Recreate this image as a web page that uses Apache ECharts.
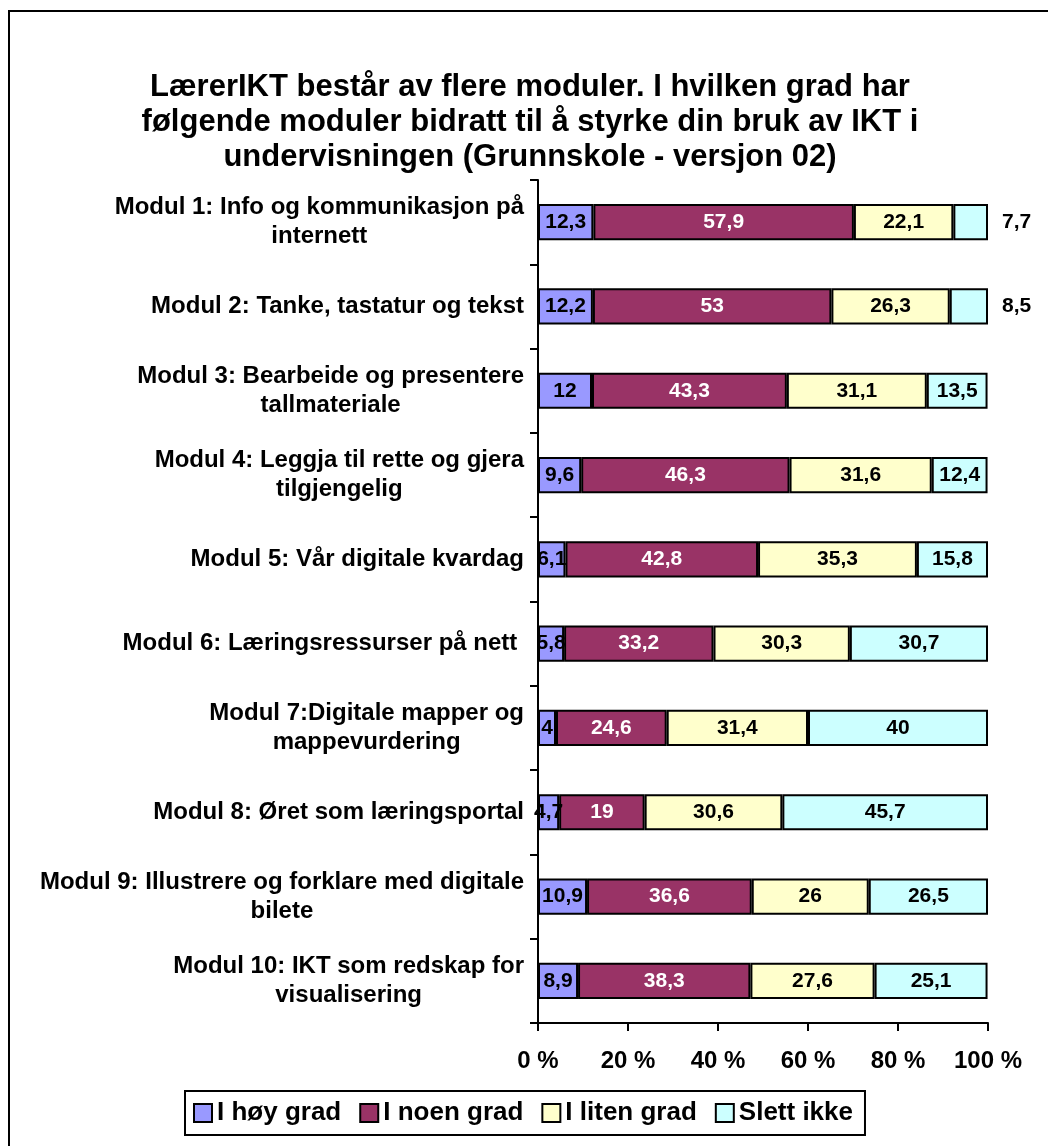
<!DOCTYPE html>
<html>
<head>
<meta charset="utf-8">
<script src="https://cdn.jsdelivr.net/npm/echarts@6/dist/echarts.min.js"></script>
<style>
html,body{margin:0;padding:0;background:#fff;}
#chart{width:1048px;height:1146px;}
</style>
</head>
<body>
<div id="chart"></div>
<script>
const categories = [
  "Modul 1: Info og kommunikasjon på\ninternett",
  "Modul 2: Tanke, tastatur og tekst",
  "Modul 3: Bearbeide og presentere\ntallmateriale",
  "Modul 4: Leggja til rette og gjera\ntilgjengelig",
  "Modul 5: Vår digitale kvardag",
  "Modul 6: Læringsressurser på nett ",
  "Modul 7:Digitale mapper og\nmappevurdering",
  "Modul 8: Øret som læringsportal",
  "Modul 9: Illustrere og forklare med digitale\nbilete",
  "Modul 10: IKT som redskap for\nvisualisering"
];
const seriesNames = ["I høy grad", "I noen grad", "I liten grad", "Slett ikke"];
const hoyGrad   = [12.3, 12.2, 12, 9.6, 6.1, 5.8, 4, 4.7, 10.9, 8.9];
const noenGrad  = [57.9, 53, 43.3, 46.3, 42.8, 33.2, 24.6, 19, 36.6, 38.3];
const litenGrad = [22.1, 26.3, 31.1, 31.6, 35.3, 30.3, 31.4, 30.6, 26, 27.6];
const slettIkke = [7.7, 8.5, 13.5, 12.4, 15.8, 30.7, 40, 45.7, 26.5, 25.1];
const xTicks = [0, 20, 40, 60, 80, 100];

const colors = ["#9999FF", "#993366", "#FFFFCC", "#CCFFFF"];
const labelColors = ["#000", "#fff", "#000", "#000"];
const FONT = "'Liberation Sans', Arial, sans-serif";
const allValues = [hoyGrad, noenGrad, litenGrad, slettIkke];

const fmt = v => String(v).replace('.', ',');

const series = allValues.map((vals, si) => ({
  name: seriesNames[si],
  type: 'bar',
  stack: 'total',
  barWidth: '43%',
  itemStyle: { color: colors[si], borderColor: '#000', borderWidth: 2 },
  label: {
    show: true,
    position: 'inside',
    color: labelColors[si],
    fontFamily: FONT,
    fontWeight: 'bold',
    fontSize: 21,
    formatter: p => fmt(p.value)
  },
  emphasis: { disabled: true },
  data: vals.map(v => {
    if (si === 3 && v < 10) {
      return { value: v, label: { position: 'right', distance: 14, color: '#000' } };
    }
    return v;
  })
}));

const chart = echarts.init(document.getElementById('chart'), null, { renderer: 'canvas' });
chart.setOption({
  animation: false,
  backgroundColor: '#fff',
  graphic: [
    {
      type: 'rect',
      shape: { x: 9, y: 11, width: 1200, height: 1300 },
      style: { fill: 'none', stroke: '#000', lineWidth: 2 },
      z: -10
    },
    {
      type: 'text',
      x: 530, y: 70,
      style: {
        text: "LærerIKT består av flere moduler. I hvilken grad har\nfølgende moduler bidratt til å styrke din bruk av IKT i\nundervisningen (Grunnskole - versjon 02)",
        font: "bold 31px " + FONT,
        fill: '#000',
        textAlign: 'center',
        textVerticalAlign: 'top',
        lineHeight: 35
      }
    }
  ],
  legend: {
    left: 185,
    top: 1091,
    data: seriesNames,
    orient: 'horizontal',
    icon: 'rect',
    borderColor: '#000',
    borderWidth: 2,
    padding: [8, 12, 8, 8],
    itemWidth: 18,
    itemHeight: 18,
    itemGap: 18,
    textStyle: { fontFamily: FONT, fontWeight: 'bold', fontSize: 26, color: '#000', lineHeight: 28 },
    itemStyle: { borderColor: '#000', borderWidth: 2 },
    selectedMode: false
  },
  grid: { left: 538, right: 60, top: 180, bottom: 123, containLabel: false },
  xAxis: {
    type: 'value',
    min: 0,
    max: 100,
    interval: 20,
    axisLine: { show: true, lineStyle: { color: '#000', width: 2 } },
    axisTick: { show: true, length: 8, lineStyle: { color: '#000', width: 2 } },
    splitLine: { show: false },
    axisLabel: {
      margin: 26,
      color: '#000',
      fontFamily: FONT,
      fontWeight: 'bold',
      fontSize: 24,
      formatter: v => xTicks.includes(v) ? v + ' %' : ''
    }
  },
  yAxis: {
    type: 'category',
    inverse: true,
    data: categories,
    axisLine: { show: true, lineStyle: { color: '#000', width: 2 } },
    axisTick: { show: true, length: 8, lineStyle: { color: '#000', width: 2 } },
    axisLabel: {
      margin: 14,
      color: '#000',
      formatter: v => v.split('\n').map(l => '{a|' + l + '}').join('\n'),
      rich: {
        a: { fontFamily: FONT, fontWeight: 'bold', fontSize: 24, color: '#000', lineHeight: 29, align: 'center' }
      }
    }
  },
  series: series
});
</script>
</body>
</html>
